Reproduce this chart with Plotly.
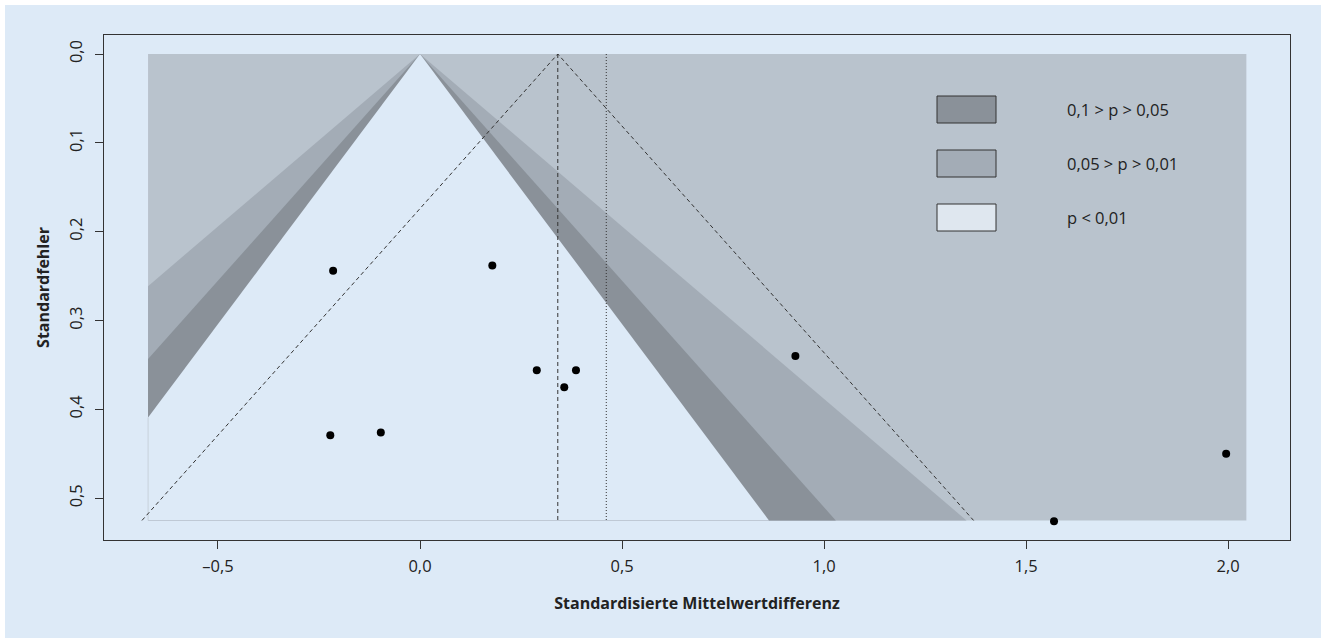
import plotly.graph_objects as go

# ---- data ----
effect = [-0.215, -0.222, -0.097, 0.179, 0.289, 0.386, 0.357, 0.929, 1.569, 1.995]
std_err = [0.244, 0.429, 0.426, 0.238, 0.356, 0.356, 0.375, 0.340, 0.526, 0.450]
summary_estimate = 0.341
second_estimate = 0.461
z_contours = [2.576, 1.96, 1.645]          # p = 0.01, 0.05, 0.10
contour_colors = ["#a3acb6", "#8a9199", "#ddeaf7"]
outer_color = "#b9c3cd"
se_max = 0.525
x_min, x_max = -0.673, 2.045
x_ticks = [-0.5, 0.0, 0.5, 1.0, 1.5, 2.0]
x_tick_text = ["\u20130,5", "0,0", "0,5", "1,0", "1,5", "2,0"]
y_ticks = [0.0, 0.1, 0.2, 0.3, 0.4, 0.5]
y_tick_text = ["0,0", "0,1", "0,2", "0,3", "0,4", "0,5"]
legend_labels = ["0,1 > p > 0,05", "0,05 > p > 0,01", "p < 0,01"]
legend_colors = ["#8a9199", "#a3acb6", "#dfe7ef"]

BG = "#ddeaf7"
fig = go.Figure()

# outer region (p < 0.01)
fig.add_trace(go.Scatter(x=[x_min, x_max, x_max, x_min, x_min],
                         y=[0, 0, se_max, se_max, 0], fill="toself",
                         fillcolor=outer_color, mode="lines", line=dict(width=0),
                         hoverinfo="skip", showlegend=False))


def funnel_polygon(z):
    xs, ys = [0.0], [0.0]
    right = min(z * se_max, x_max)
    xs.append(right); ys.append(se_max)
    left = -z * se_max
    if left < x_min:
        xs += [x_min, x_min]
        ys += [se_max, -x_min / z]
    else:
        xs.append(left); ys.append(se_max)
    xs.append(0.0); ys.append(0.0)
    return xs, ys


for z, c in zip(z_contours, contour_colors):
    xs, ys = funnel_polygon(z)
    fig.add_trace(go.Scatter(x=xs, y=ys, fill="toself", fillcolor=c, mode="lines",
                             line=dict(width=0), hoverinfo="skip", showlegend=False))

# faint edge on the left at the clipping border
fig.add_trace(go.Scatter(x=[x_min, x_min], y=[-x_min / z_contours[-1], se_max],
                         mode="lines", line=dict(color="#c9d3dd", width=1),
                         hoverinfo="skip", showlegend=False))

# pseudo-confidence funnel (dashed)
fig.add_trace(go.Scatter(
    x=[summary_estimate - 1.96 * se_max, summary_estimate, summary_estimate + 1.96 * se_max],
    y=[se_max, 0, se_max], mode="lines",
    line=dict(color="#333333", width=1, dash="4px,3px"),
    hoverinfo="skip", showlegend=False))

# vertical lines
fig.add_trace(go.Scatter(x=[summary_estimate, summary_estimate], y=[0, se_max], mode="lines",
                         line=dict(color="#333333", width=1, dash="4px,3px"),
                         hoverinfo="skip", showlegend=False))
fig.add_trace(go.Scatter(x=[second_estimate, second_estimate], y=[0, se_max], mode="lines",
                         line=dict(color="#333333", width=1, dash="1px,2px"),
                         hoverinfo="skip", showlegend=False))

# studies
fig.add_trace(go.Scatter(x=effect, y=std_err, mode="markers",
                         marker=dict(color="black", size=8), showlegend=False))

# legend (manual)
px_l, px_r = 104, 1290
py_t, py_b = 35, 540


def pxx(p):
    return (p - px_l) / (px_r - px_l)


def pxy(p):
    return (py_b - p) / (py_b - py_t)


rows_top = [96, 150, 204]
for top, col, lab in zip(rows_top, legend_colors, legend_labels):
    fig.add_shape(type="rect", xref="paper", yref="paper",
                  x0=pxx(937), x1=pxx(996), y0=pxy(top), y1=pxy(top + 27),
                  fillcolor=col, line=dict(color="#333333", width=1))
    fig.add_annotation(xref="paper", yref="paper", x=pxx(1065), y=pxy(top + 13.5),
                       text=lab, showarrow=False, xanchor="left", yanchor="middle",
                       font=dict(size=16.5, color="#222222"))

# white border strips on top and left edges of the image
fig.add_shape(type="rect", xref="paper", yref="paper", x0=pxx(-5), x1=pxx(1330),
              y0=pxy(5), y1=pxy(-5), fillcolor="white", line=dict(width=0))
fig.add_shape(type="rect", xref="paper", yref="paper", x0=pxx(-5), x1=pxx(5),
              y0=pxy(650), y1=pxy(-5), fillcolor="white", line=dict(width=0))

axis_common = dict(showline=True, mirror=True, linecolor="#333333", linewidth=1.2,
                   ticks="outside", ticklen=8, tickcolor="#333333", tickwidth=1.2,
                   showgrid=False, zeroline=False,
                   tickfont=dict(size=16.5, color="#222222"))

fig.update_layout(
    width=1321, height=638,
    margin=dict(l=104, r=31, t=35, b=98),
    paper_bgcolor=BG, plot_bgcolor=BG,
    font=dict(family="Open Sans, Noto Sans, sans-serif", color="#222222"),
    xaxis=dict(range=[-0.782, 2.153], tickvals=x_ticks, ticktext=x_tick_text,
               ticklabelstandoff=3,
               title=dict(text="<b>Standardisierte Mittelwertdifferenz</b>",
                          font=dict(size=16), standoff=21),
               **axis_common),
    yaxis=dict(range=[0.547, -0.0214], tickvals=y_ticks, ticktext=y_tick_text,
               tickangle=-90, ticklabelstandoff=6,
               title=dict(text="<b>Standardfehler</b>", font=dict(size=16), standoff=10),
               **axis_common),
)

fig.write_html("out.html", config={"displayModeBar": False},
               post_script="document.documentElement.style.margin='0';"
                           "document.body.style.margin='0';document.body.style.padding='0';"
                           "document.body.style.overflow='hidden';"
                           "document.documentElement.style.overflow='hidden';"
                           "document.body.style.background='" + BG + "';"
                           "document.documentElement.style.background='" + BG + "';")
